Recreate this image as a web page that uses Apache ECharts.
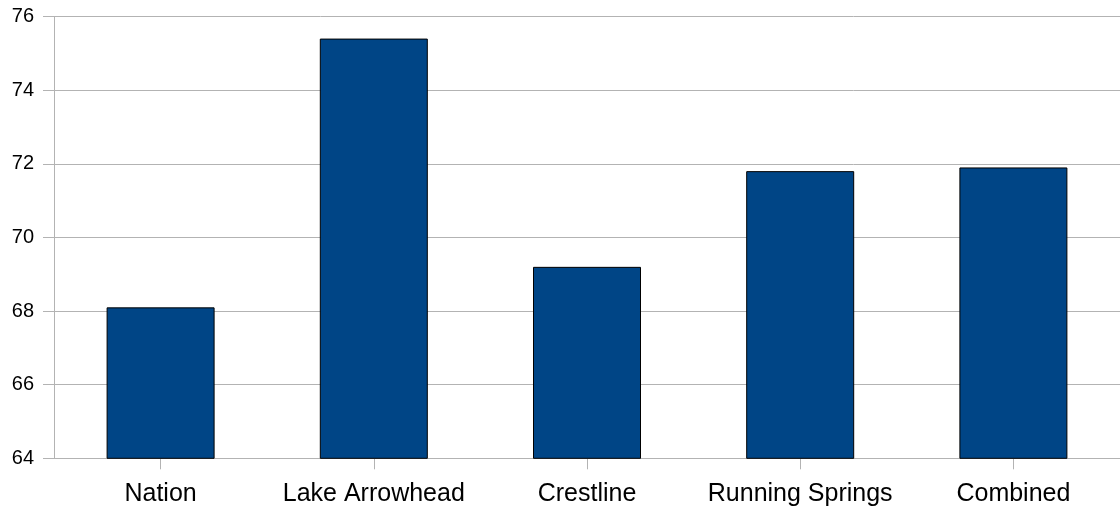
<!DOCTYPE html>
<html>
<head>
<meta charset="utf-8">
<script src="https://cdn.jsdelivr.net/npm/echarts@6/dist/echarts.min.js"></script>
<style>
html,body{margin:0;padding:0;background:#fff;}
#chart{width:1120px;height:510px;}
</style>
</head>
<body>
<div id="chart"></div>
<script>
const categories = ["Nation", "Lake Arrowhead", "Crestline", "Running Springs", "Combined"];
const values = [68.1, 75.4, 69.2, 71.8, 71.9];
const yMin = 64, yMax = 76, yStep = 2;

const chart = echarts.init(document.getElementById('chart'), null, {renderer: 'canvas'});
chart.setOption({
  animation: false,
  backgroundColor: '#ffffff',
  grid: {left: 54, right: 0, top: 16.5, bottom: 51.7, containLabel: false},
  xAxis: {
    type: 'category',
    data: categories,
    axisLine: {show: true, lineStyle: {color: '#b3b3b3', width: 1}},
    axisTick: {show: true, alignWithLabel: true, interval: 0, length: 11, lineStyle: {color: '#b3b3b3'}},
    axisLabel: {color: '#000', fontSize: 25, interval: 0, hideOverlap: false, fontFamily: 'Liberation Sans, Arial, sans-serif', margin: 23},
    splitLine: {show: false}
  },
  yAxis: {
    type: 'value',
    min: yMin, max: yMax, interval: yStep,
    axisLine: {show: true, lineStyle: {color: '#b3b3b3', width: 1}},
    axisTick: {show: true, length: 11, lineStyle: {color: '#b3b3b3'}},
    axisLabel: {color: '#000', fontSize: 20, fontFamily: 'Liberation Sans, Arial, sans-serif', margin: 20},
    splitLine: {show: true, lineStyle: {color: '#b3b3b3', width: 1}}
  },
  series: [{
    type: 'bar',
    data: values,
    barWidth: 108,
    itemStyle: {color: '#004586', borderColor: '#000000', borderWidth: 1}
  }]
});
</script>
</body>
</html>
